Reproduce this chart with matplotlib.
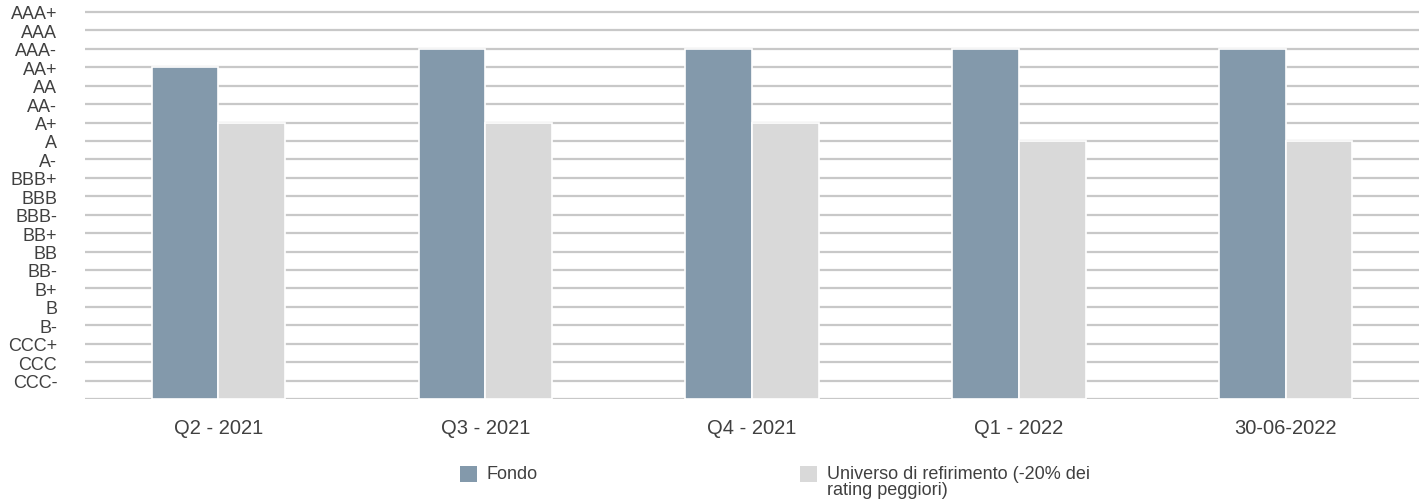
import numpy as np
import matplotlib
matplotlib.use("Agg")
import matplotlib.pyplot as plt
from matplotlib.patches import Rectangle

plt.rcParams["font.family"] = ["Liberation Sans", "DejaVu Sans"]

# rating scale, bottom to top
ratings = ["CCC-", "CCC", "CCC+", "B-", "B", "B+", "BB-", "BB", "BB+",
           "BBB-", "BBB", "BBB+", "A-", "A", "A+", "AA-", "AA", "AA+",
           "AAA-", "AAA", "AAA+"]
periods = ["Q2 - 2021", "Q3 - 2021", "Q4 - 2021", "Q1 - 2022", "30-06-2022"]
fondo = ["AA+", "AAA-", "AAA-", "AAA-", "AAA-"]
universo = ["A+", "A+", "A+", "A", "A"]

labels = ["Fondo", "Universo di refirimento (-20% dei\nrating peggiori)"]
colors = ["#8399ab", "#d9d9d9"]
text_color = "#404040"
grid_color = "#c8c8c8"

W, H = 1424, 502


def rating_value(r):
    return ratings.index(r) + 1


fig = plt.figure(figsize=(W / 100, H / 100), dpi=100)
ax = fig.add_axes([85 / W, 1 - 400 / H, 1334 / W, 0.7838])

x = np.arange(len(periods))
w = 0.25
f_vals = [rating_value(r) for r in fondo]
u_vals = [rating_value(r) for r in universo]
ax.bar(x - w / 2, f_vals, w, color=colors[0], edgecolor="white", linewidth=1.2, zorder=3)
ax.bar(x + w / 2, u_vals, w, color=colors[1], edgecolor="white", linewidth=1.2, zorder=3)

ax.set_xlim(-0.5, len(periods) - 0.5)
ax.set_ylim(0, 21.35)
ax.set_yticks(np.arange(0, len(ratings) + 1))
ax.set_yticklabels([""] + ratings)
ax.set_xticks(x)
ax.set_xticklabels(periods)
ax.tick_params(axis="y", length=0, pad=20, labelsize=13, colors=text_color)
ax.tick_params(axis="x", length=0, pad=13.7, labelsize=14.5, colors=text_color)
ax.grid(axis="y", color=grid_color, linewidth=1.6, zorder=0)
for s in ax.spines.values():
    s.set_visible(False)

# legend drawn by hand: square + label, first line level with the square
legend_x = [460, 800]
for lx, lab, col in zip(legend_x, labels, colors):
    fig.patches.append(Rectangle((lx / W, 1 - 483 / H), 17 / W, 16 / H,
                                 transform=fig.transFigure, facecolor=col,
                                 edgecolor="none"))
    fig.text((lx + 27) / W, 1 - 466 / H, lab, ha="left", va="top",
             fontsize=13, color=text_color, linespacing=0.95)

fig.savefig("out.png", dpi=100)
plt.close(fig)
